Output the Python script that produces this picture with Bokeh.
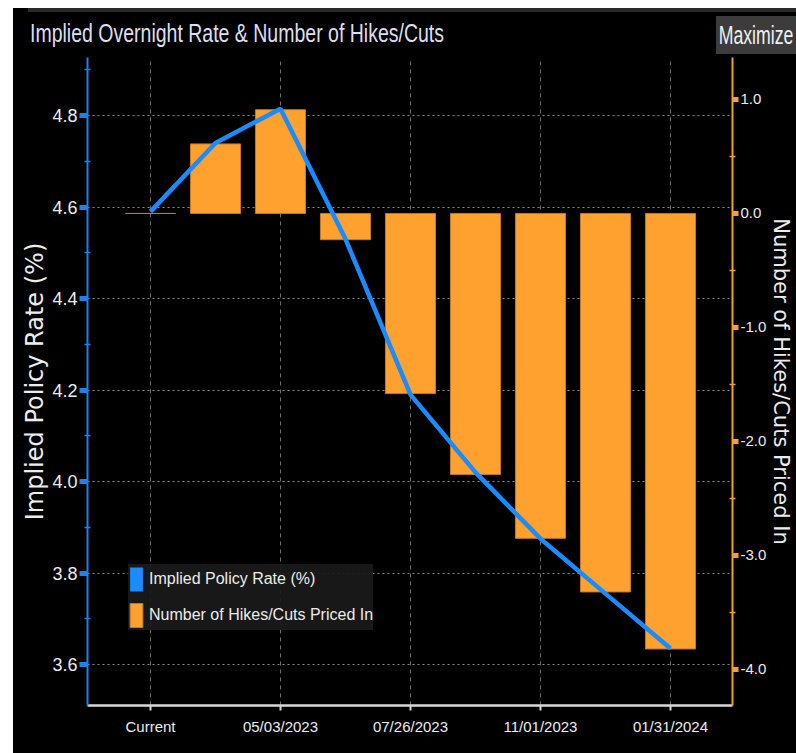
from bokeh.plotting import figure
from bokeh.layouts import column
from bokeh.models import (Range1d, LinearAxis, FixedTicker, NumeralTickFormatter, ColumnDataSource,
                          Legend, LegendItem, Div)
from bokeh.embed import file_html
from bokeh.resources import INLINE
import html as _html

# ---- data ----
dates = ["Current", "03/22/2023", "05/03/2023", "06/14/2023", "07/26/2023",
         "09/20/2023", "11/01/2023", "12/13/2023", "01/31/2024"]
policy_rate = [4.59, 4.74, 4.815, 4.53, 4.19, 4.02, 3.875, 3.755, 3.635]
hikes_cuts = [0.0, 0.61, 0.91, -0.23, -1.58, -2.29, -2.85, -3.32, -3.82]
rate_ticks = [3.6, 3.8, 4.0, 4.2, 4.4, 4.6, 4.8]
rate_minor = [3.7, 3.9, 4.1, 4.3, 4.5, 4.7, 4.9]
hike_ticks = [-4.0, -3.0, -2.0, -1.0, 0.0, 1.0]
hike_minor = [-3.5, -2.5, -1.5, -0.5, 0.5]
labelled_idx = [0, 2, 4, 6, 8]
title_text = "Implied Overnight Rate & Number of Hikes/Cuts"
button_text = "Maximize"

NARROW = "Liberation Sans"
WIDE = "DejaVu Sans"
BLUE = "#1a8cff"
ORANGE = "#FFA12E"
TXT = "#ececec"
W = 783
HEAD_H = 49

# ---- header strip (title + button) as HTML ----
head_html = (
    f'<div style="position:relative;width:{W}px;height:{HEAD_H + 1}px;background:#000;overflow:hidden;">'
    f'<div style="position:absolute;left:15px;top:0;width:{W - 15}px;height:4px;background:#2a2a2a;"></div>'
    f'<div style="position:absolute;left:17px;top:13px;font-family:\'Liberation Sans\';font-size:25px;'
    f'line-height:25px;color:#dedef0;white-space:nowrap;transform:scaleX(0.78);transform-origin:0 0;">'
    f'{_html.escape(title_text)}</div>'
    f'<div style="position:absolute;left:703px;top:8px;width:80px;height:38px;background:#3c3c3c;">'
    f'<span style="position:absolute;left:50%;top:0;white-space:nowrap;font-family:\'Liberation Sans\';'
    f'font-size:26px;line-height:38px;color:#f0f0f0;transform:translateX(-50%) scaleX(0.68);">'
    f'{_html.escape(button_text)}</span></div>'
    f'</div>'
)
header = Div(text=head_html, width=W, height=HEAD_H, margin=0,
             styles={"background-color": "black", "overflow": "hidden"})

# ---- main chart ----
xs = list(range(len(dates)))
src = ColumnDataSource(data=dict(x=xs, rate=policy_rate, hikes=hikes_cuts))

p = figure(width=W, height=696, output_backend="svg", toolbar_location=None, title=None,
           x_range=Range1d(-0.969, 8.954), y_range=Range1d(3.5104, 4.9268),
           background_fill_color="black", border_fill_color="black",
           outline_line_color=None,
           min_border_left=74, min_border_right=64, min_border_top=0, min_border_bottom=48)
p.extra_y_ranges = {"hikes": Range1d(-4.316, 1.368)}

# grids
p.ygrid.ticker = FixedTicker(ticks=rate_ticks)
p.ygrid.grid_line_color = "#8a8a8a"
p.ygrid.grid_line_dash = "2 3"
p.ygrid.grid_line_width = 1
p.xgrid.ticker = FixedTicker(ticks=labelled_idx)
p.xgrid.grid_line_color = "#6e6e6e"
p.xgrid.grid_line_dash = "4 4"
p.xgrid.grid_line_width = 1

# left axis
la = p.yaxis[0]
la.ticker = FixedTicker(ticks=rate_ticks, minor_ticks=rate_minor)
la.formatter = NumeralTickFormatter(format="0.0")
la.axis_line_color = "#1f80e8"
la.axis_line_width = 2
la.major_tick_line_color = "#1f80e8"
la.major_tick_line_width = 5
la.major_tick_out = 8
la.major_tick_in = 0
la.minor_tick_line_color = "#1f80e8"
la.minor_tick_line_width = 1.5
la.minor_tick_in = 3
la.minor_tick_out = 3
la.major_label_text_color = TXT
la.major_label_text_font = NARROW
la.major_label_text_font_size = "18px"
la.major_label_standoff = 2
la.axis_label = "Implied Policy Rate (%)"
la.axis_label_text_font = WIDE
la.axis_label_text_font_style = "normal"
la.axis_label_text_font_size = "24px"
la.axis_label_text_color = TXT
la.axis_label_standoff = 0

# right axis
ra = LinearAxis(y_range_name="hikes",
                ticker=FixedTicker(ticks=hike_ticks, minor_ticks=hike_minor),
                formatter=NumeralTickFormatter(format="0.0"))
ra.axis_line_color = "#f5a030"
ra.axis_line_width = 2
ra.major_tick_line_color = "#f5a030"
ra.major_tick_line_width = 5
ra.major_tick_out = 6
ra.major_tick_in = 0
ra.minor_tick_line_color = "#f5a030"
ra.minor_tick_line_width = 1.5
ra.minor_tick_in = 3
ra.minor_tick_out = 3
ra.major_label_text_color = TXT
ra.major_label_text_font = NARROW
ra.major_label_text_font_size = "15px"
ra.major_label_standoff = 2
ra.axis_label = "Number of Hikes/Cuts Priced In"
ra.axis_label_text_font = WIDE
ra.axis_label_text_font_style = "normal"
ra.axis_label_text_font_size = "21px"
ra.axis_label_text_color = TXT
ra.axis_label_standoff = 0
p.add_layout(ra, "right")

# bottom axis
xa = p.xaxis[0]
xa.ticker = FixedTicker(ticks=labelled_idx)
xa.major_label_overrides = {i: dates[i] for i in labelled_idx}
xa.axis_line_color = "#d8d8d8"
xa.axis_line_width = 2.5
xa.major_tick_line_color = "#d8d8d8"
xa.major_tick_line_width = 2
xa.major_tick_out = 5
xa.major_tick_in = 0
xa.minor_tick_line_color = None
xa.major_label_text_color = TXT
xa.major_label_text_font = NARROW
xa.major_label_text_font_size = "15px"
xa.major_label_standoff = 7

# glyphs
bars = p.vbar(x="x", top="hikes", bottom=0, width=0.77, source=src, y_range_name="hikes",
              fill_color=ORANGE, line_color="#C07A22", line_width=1)
p.line(x="x", y="rate", source=src, line_color=BLUE, line_width=4.5)

# zero-width bars: only give the legend its blue swatch
swatch = p.vbar(x="x", top="rate", bottom="rate", width=0, source=src,
                fill_color=BLUE, line_color=None)

legend = Legend(items=[LegendItem(label="Implied Policy Rate (%)", renderers=[swatch]),
                       LegendItem(label="Number of Hikes/Cuts Priced In", renderers=[bars])],
                location=(41, 75), background_fill_color="#1a1a1a", background_fill_alpha=0.93,
                border_line_color=None, label_text_color=TXT, label_text_font=NARROW,
                label_text_font_size="16px", glyph_width=16, glyph_height=30, label_height=30,
                spacing=6, padding=12, label_standoff=5, margin=0)
p.add_layout(legend, "center")

layout = column(header, p, spacing=0, margin=(8, 0, 0, 13),
                styles={"background-color": "black"})
open("out.html", "w").write(file_html(layout, INLINE))
